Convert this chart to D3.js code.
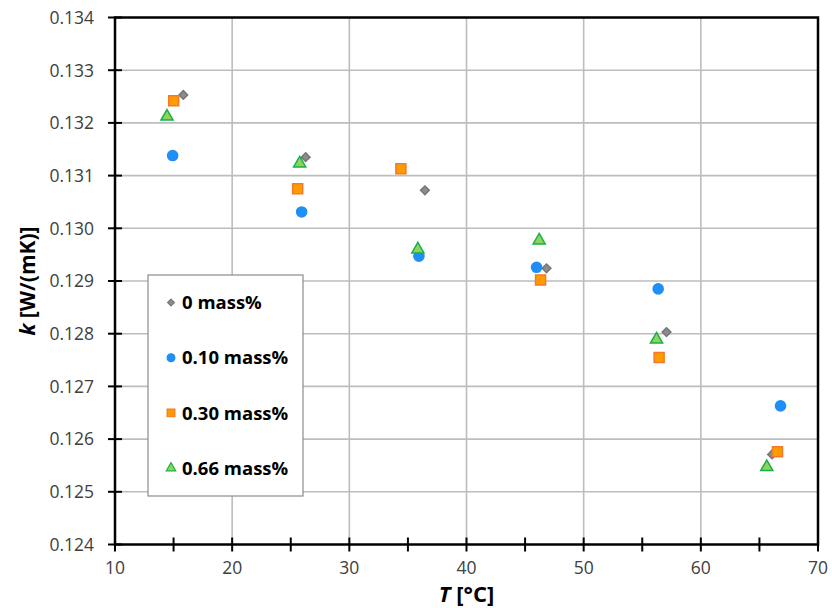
<!DOCTYPE html>
<html>
<head>
<meta charset="utf-8">
<script src="https://cdn.jsdelivr.net/npm/d3@7/dist/d3.min.js"></script>
<style>
  html, body { margin: 0; padding: 0; background: #fff; }
  svg { display: block; font-family: "Open Sans", "Noto Sans", sans-serif; }
</style>
</head>
<body>
<svg id="chart" width="832" height="608"></svg>
<script>
// Thermal conductivity k vs temperature T for four concentrations
const seriesNames = ["0 mass%", "0.10 mass%", "0.30 mass%", "0.66 mass%"];

const tempMass0   = [15.83, 26.27, 36.45, 46.83, 57.07, 66.08];
const kMass0      = [0.13253, 0.13135, 0.13072, 0.12924, 0.12803, 0.12571];

const tempMass010 = [14.92, 25.93, 35.94, 45.98, 56.36, 66.80];
const kMass010    = [0.13138, 0.13031, 0.12947, 0.12926, 0.12885, 0.12663];

const tempMass030 = [15.01, 25.59, 34.40, 46.32, 56.44, 66.54];
const kMass030    = [0.13242, 0.13075, 0.13113, 0.12902, 0.12755, 0.12576];

const tempMass066 = [14.44, 25.76, 35.85, 46.20, 56.22, 65.63];
const kMass066    = [0.13212, 0.13123, 0.12960, 0.12977, 0.12789, 0.12547];

const xTicks = [10, 20, 30, 40, 50, 60, 70];
const xMinorTicks = [15, 25, 35, 45, 55, 65];
const yTicks = [0.124, 0.125, 0.126, 0.127, 0.128, 0.129, 0.130, 0.131, 0.132, 0.133, 0.134];

const series = [
  { name: seriesNames[0], t: tempMass0,   k: kMass0,   shape: "diamond" },
  { name: seriesNames[1], t: tempMass010, k: kMass010, shape: "circle" },
  { name: seriesNames[2], t: tempMass030, k: kMass030, shape: "square" },
  { name: seriesNames[3], t: tempMass066, k: kMass066, shape: "triangle" }
];

const styles = {
  diamond:  { symbol: d3.symbolDiamond2, size: 48, fill: "#8c8c8c", stroke: "#767676" },
  circle:   { symbol: d3.symbolCircle,   size: 80, fill: "#1f8ff5", stroke: "#1f8ff5" },
  square:   { symbol: d3.symbolSquare,   size: 100, fill: "#ff9a00", stroke: "#f27a2a" },
  triangle: { symbol: d3.symbolTriangle, size: 64, fill: "#8fd35a", stroke: "#17b04a" }
};

const svg = d3.select("#chart");
const margin = { left: 115, right: 14, top: 17.5, bottom: 63.5 };
const W = 832, H = 608;

const x = d3.scaleLinear().domain([10, 70]).range([margin.left, W - margin.right]);
const y = d3.scaleLinear().domain([0.124, 0.134]).range([H - margin.bottom, margin.top]);

// grid
const grid = svg.append("g");
grid.selectAll("line.gx").data(xTicks.slice(1, -1)).join("line")
  .attr("x1", d => x(d)).attr("x2", d => x(d))
  .attr("y1", y(0.124)).attr("y2", y(0.134))
  .attr("stroke", "#bdbdbd").attr("stroke-width", 1.6);
grid.selectAll("line.gy").data(yTicks.slice(1, -1)).join("line")
  .attr("x1", x(10)).attr("x2", x(70))
  .attr("y1", d => y(d)).attr("y2", d => y(d))
  .attr("stroke", "#bdbdbd").attr("stroke-width", 1.6);

// frame
svg.append("rect")
  .attr("x", x(10)).attr("y", y(0.134))
  .attr("width", x(70) - x(10)).attr("height", y(0.124) - y(0.134))
  .attr("fill", "none").attr("stroke", "#000").attr("stroke-width", 2.5);

// x axis (ticks crossing the axis line)
const xAxis = svg.append("g").attr("transform", `translate(0,${y(0.124)})`);
xAxis.selectAll("line.tick").data(xTicks.concat(xMinorTicks)).join("line")
  .attr("x1", d => x(d)).attr("x2", d => x(d))
  .attr("y1", -7).attr("y2", 7)
  .attr("stroke", "#000").attr("stroke-width", 2);
xAxis.selectAll("text").data(xTicks).join("text")
  .attr("x", d => x(d)).attr("y", 29)
  .attr("text-anchor", "middle")
  .attr("font-size", 17.5).attr("fill", "#404040")
  .text(d => d3.format("d")(d));

// y axis
const yAxis = svg.append("g").attr("transform", `translate(${x(10)},0)`);
yAxis.selectAll("line.tick").data(yTicks).join("line")
  .attr("x1", -7).attr("x2", 7)
  .attr("y1", d => y(d)).attr("y2", d => y(d))
  .attr("stroke", "#000").attr("stroke-width", 2);
yAxis.selectAll("text").data(yTicks).join("text")
  .attr("x", -21).attr("y", d => y(d)).attr("dy", "0.36em")
  .attr("text-anchor", "end")
  .attr("font-size", 17.5).attr("fill", "#404040")
  .text(d => d3.format(".3f")(d));

// axis titles
const xTitle = svg.append("text")
  .attr("x", x(40)).attr("y", 602)
  .attr("text-anchor", "middle")
  .attr("font-size", 22).attr("font-weight", "bold").attr("fill", "#000");
xTitle.append("tspan").attr("font-style", "italic").text("T");
xTitle.append("tspan").text(" [°C]");

const yTitle = svg.append("text")
  .attr("transform", `translate(35,${y(0.129)}) rotate(-90)`)
  .attr("text-anchor", "middle")
  .attr("font-size", 21).attr("font-weight", "bold").attr("fill", "#000");
yTitle.append("tspan").attr("font-style", "italic").text("k");
yTitle.append("tspan").text(" [W/(mK)]");

// data points
const symbolPath = shape => d3.symbol().type(styles[shape].symbol).size(styles[shape].size)();
const marks = svg.append("g");
series.forEach(s => {
  const st = styles[s.shape];
  marks.append("g").selectAll("path").data(s.t.map((t, i) => [t, s.k[i]])).join("path")
    .attr("d", symbolPath(s.shape))
    .attr("transform", d => `translate(${x(d[0])},${y(d[1])})`)
    .attr("fill", st.fill).attr("stroke", st.stroke).attr("stroke-width", 1.5);
});

// legend
const legend = svg.append("g");
legend.append("rect")
  .attr("x", 148).attr("y", 275).attr("width", 155).attr("height", 221)
  .attr("fill", "#fff").attr("stroke", "#8c8c8c").attr("stroke-width", 1.2);
series.forEach((s, i) => {
  const st = styles[s.shape];
  const cy = 302.5 + i * 55.2;
  legend.append("path")
    .attr("d", d3.symbol().type(st.symbol).size(st.size * 0.6)())
    .attr("transform", `translate(171,${cy})`)
    .attr("fill", st.fill).attr("stroke", st.stroke).attr("stroke-width", 1.2);
  legend.append("text")
    .attr("x", 182).attr("y", cy).attr("dy", "0.36em")
    .attr("font-size", 18.5).attr("font-weight", "bold").attr("fill", "#000")
    .text(s.name);
});
</script>
</body>
</html>
